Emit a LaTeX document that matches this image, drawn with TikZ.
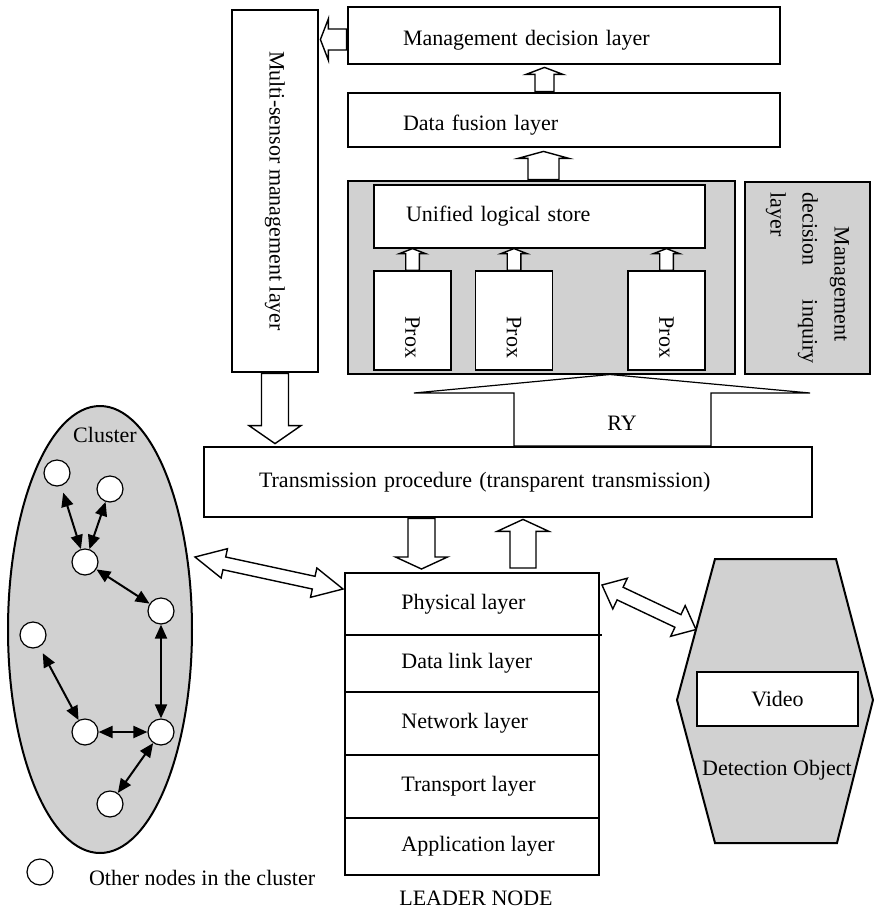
\documentclass[tikz,border=0pt]{standalone}
\usepackage{fontspec}
\setmainfont{Liberation Serif}
\usepackage{graphicx}
\usetikzlibrary{calc,positioning,shapes.geometric,arrows.meta}
\definecolor{panelgray}{RGB}{209,209,209}
% hollow block arrow: from, to, half shaft, half head, head length
\newcommand\blockarrow[5]{%
  \path (#1) coordinate (ba-s) (#2) coordinate (ba-t);
  \path ($(ba-t)!#5!(ba-s)$) coordinate (ba-h);
  \draw[arrowline] ($(ba-s)!#3!90:(ba-t)$) -- ($(ba-h)!#3!90:(ba-t)$) -- ($(ba-h)!#4!90:(ba-t)$)
    -- (ba-t) -- ($(ba-h)!#4!-90:(ba-t)$) -- ($(ba-h)!#3!-90:(ba-t)$) -- ($(ba-s)!#3!-90:(ba-t)$) -- cycle;}
% same with a head at both ends
\newcommand\dblarrow[5]{%
  \path (#1) coordinate (da-s) (#2) coordinate (da-t);
  \path ($(da-s)!#5!(da-t)$) coordinate (da-a) ($(da-t)!#5!(da-s)$) coordinate (da-b);
  \draw[arrowline] (da-s) -- ($(da-a)!#4!90:(da-t)$) -- ($(da-a)!#3!90:(da-t)$) -- ($(da-b)!#3!90:(da-t)$)
    -- ($(da-b)!#4!90:(da-t)$) -- (da-t) -- ($(da-b)!#4!-90:(da-t)$) -- ($(da-b)!#3!-90:(da-t)$)
    -- ($(da-a)!#3!-90:(da-t)$) -- ($(da-a)!#4!-90:(da-t)$) -- cycle;}
% text set a little below the middle of its box
\newcommand\lowtext[1]{\raisebox{-2.4pt}[\height][\depth]{#1}}

\begin{document}
\begin{tikzpicture}[x=0.5pt, y=-0.5pt,
    font=\fontsize{11pt}{13.5pt}\selectfont,
    heavybox/.style={draw, line width=1.4pt, fill=white, inner sep=0pt},
    lightbox/.style={draw, line width=0.6pt, fill=white, inner sep=0pt},
    graypanel/.style={draw, fill=panelgray, inner sep=0pt},
    layer/.style={draw, line width=0.6pt, minimum width=127pt, inner sep=0pt, outer sep=0pt},
    member/.style={circle, draw, fill=white, line width=0.6pt, minimum size=13pt, inner sep=0pt},
    link/.style={<->, >={Triangle[length=7pt,width=6pt]}, line width=1pt},
    arrowline/.style={draw, fill=white, line width=0.7pt, line join=miter}]
  \useasboundingbox (0,0) rectangle (874,912);

  % cluster of sensor nodes
  \node[ellipse, draw, fill=panelgray, line width=1pt, minimum width=92pt, minimum height=223.5pt, inner sep=0pt] (cluster) at (100,629.5) {};
  \node (clustername) at (105,435) {Cluster};
  \node[member] (c1) at (57,473) {};
  \node[member] (c2) at (110,489) {};
  \node[member] (c3) at (85,562) {};
  \node[member] (c4) at (161,611) {};
  \node[member] (c5) at (33,635) {};
  \node[member] (c6) at (85,732) {};
  \node[member] (c7) at (161,732) {};
  \node[member] (c8) at (110,804) {};
  \draw[link, shorten <=3.5pt] (c1) -- (c3);
  \draw[link] (c2) -- (c3);
  \draw[link] (c3) -- (c4);
  \draw[link] (c4) -- (c7);
  \draw[link, shorten <=3.5pt] (c5) -- (c6);
  \draw[link] (c6) -- (c7);
  \draw[link] (c7) -- (c8);
  \node[member] (legend) at (40,872) {};
  \node[anchor=base west] (legendtext) at (82,885) {Other nodes in the cluster};

  % upper layers
  \node[heavybox, minimum width=43pt, minimum height=181pt] (msl) at (275,191) {\rotatebox{-90}{Multi-sensor management layer}};
  \node[heavybox, minimum height=28.5pt, text width=161pt, inner xsep=27.5pt, align=left] (mdl) at (564,35.5) {\lowtext{Management decision layer}};
  \node[heavybox, minimum height=27pt, text width=161pt, inner xsep=27.5pt, align=left] (dfl) at (564,120) {\lowtext{Data fusion layer}};
  \node[graypanel, line width=1.4pt, minimum width=193.5pt, minimum height=96.5pt] (store) at (541.5,277.5) {};
  \node[lightbox, minimum height=31.5pt, text width=133.5pt, inner xsep=16pt, align=left] (uls) at (539.5,216.5) {Unified logical store};
  \node[lightbox, minimum width=38.5pt, minimum height=49.5pt] (prox1) at (412.5,320.5) {\rotatebox{-90}{\makebox[37.5pt][r]{Prox}}};
  \node[lightbox, minimum width=38.5pt, minimum height=49.5pt] (prox2) at (514,320.5) {\rotatebox{-90}{\makebox[37.5pt][r]{Prox}}};
  \node[lightbox, minimum width=38.5pt, minimum height=49.5pt] (prox3) at (666.5,320.5) {\rotatebox{-90}{\makebox[37.5pt][r]{Prox}}};
  \node[graypanel, line width=0.6pt, minimum width=62.5pt, minimum height=96pt] (mdi) at (807.5,278)
    {\rotatebox{-90}{\parbox{85.5pt}{\raggedright\hspace*{17pt}Management\\[2.5pt] decision\hskip 0pt plus 1filll inquiry\\[2.5pt] layer}}};

  % RY funnel
  \draw[line width=0.6pt, fill=white] (414,393) -- (610,374.5) -- (810,393) -- (711,393) -- (711,446) -- (514,446) -- (514,393) -- cycle;
  \node (ry) at (622,423) {RY};

  \node[heavybox, minimum height=35pt, text width=249pt, inner xsep=27.5pt, align=left] (tp) at (508,482) {Transmission procedure (transparent transmission)};

  % leader node stack
  \node[layer, minimum height=31pt] (phy) at (472,604) {};
  \node[layer, minimum height=28.5pt, below=0pt of phy] (dll) {};
  \node[layer, minimum height=31.5pt, below=0pt of dll] (net) {};
  \node[layer, minimum height=31.5pt, below=0pt of net] (trp) {};
  \node[layer, minimum height=28.5pt, below=0pt of trp] (app) {};
  \draw[line width=1.4pt] (phy.north west) rectangle (app.south east);
  \draw[line width=0.6pt] (phy.south east) -- ++(3,0);
  \node[right=28pt of phy.west, inner sep=0pt] {Physical layer};
  \node[right=28pt of dll.west, inner sep=0pt] {Data link layer};
  \node[right=28pt of net.west, inner sep=0pt] {Network layer};
  \node[right=28pt of trp.west, inner sep=0pt] {Transport layer};
  \node[right=28pt of app.west, inner sep=0pt] {Application layer};
  \node (leadername) at (476,898) {LEADER NODE};

  % detection object
  \coordinate (hx-nw) at (715,559);
  \coordinate (hx-ne) at (836,559);
  \coordinate (hx-e) at (873,700);
  \coordinate (hx-se) at (837,843);
  \coordinate (hx-sw) at (715,843);
  \coordinate (hx-w) at (677,700);
  \draw[line width=1pt, fill=panelgray] (hx-nw) -- (hx-ne) -- (hx-e) -- (hx-se) -- (hx-sw) -- (hx-w) -- cycle;
  \node[lightbox, minimum width=80.5pt, minimum height=27pt] (video) at (777.5,699) {Video};
  \node (detect) at (777,770) {Detection Object};

  % block arrows
  \blockarrow{$(mdl.west)+(0,4)$}{$(msl.east|-mdl.west)+(1,4)$}{5.25pt}{10.4pt}{4pt}
  \blockarrow{$(dfl.north)+(-19.5,0)$}{$(mdl.south)+(-19.5,2)$}{4.75pt}{9.25pt}{3.5pt}
  \blockarrow{$(store.north)+(2,0)$}{$(store.north|-dfl.south)+(2,3)$}{7.75pt}{12.75pt}{3.5pt}
  \blockarrow{prox1.north}{prox1.north|-uls.south}{3.4pt}{6.5pt}{2.5pt}
  \blockarrow{prox2.north}{prox2.north|-uls.south}{3.4pt}{6.5pt}{2.5pt}
  \blockarrow{prox3.north}{prox3.north|-uls.south}{3.4pt}{6.5pt}{2.5pt}
  \blockarrow{msl.south}{$(msl.south|-tp.north)+(0,-2)$}{6.75pt}{13pt}{9pt}
  \blockarrow{$(tp.south)+(-86.5,0)$}{$(phy.north)+(-50.5,-4)$}{6.75pt}{13pt}{6pt}
  \blockarrow{$(phy.north)+(51,-5)$}{$(tp.south)+(15,1)$}{6.5pt}{13pt}{6pt}
  \coordinate (cl-out) at (195,557);
  \dblarrow{cl-out}{$(phy.west)+(-2,-15)$}{3.25pt}{7.5pt}{15pt}
  \dblarrow{$(phy.east)+(3,-19)$}{$(hx-nw)!0.5!(hx-w)$}{3.5pt}{8.5pt}{10pt}
\end{tikzpicture}
\end{document}
